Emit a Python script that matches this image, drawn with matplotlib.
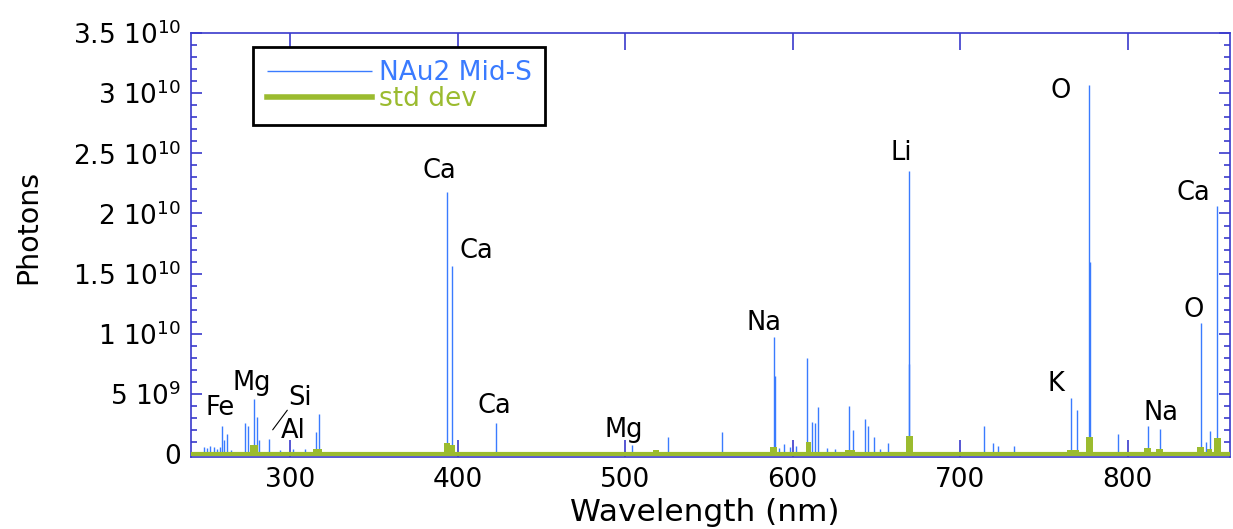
import matplotlib
matplotlib.use("Agg")
import matplotlib.pyplot as plt
from matplotlib.ticker import FixedLocator, MultipleLocator

plt.rcParams["font.family"] = ["DejaVu Sans"]
plt.rcParams["mathtext.fontset"] = "dejavusans"

# spectrum lines (nm, photons)
peak_wl = [248.5, 250.5, 252.5, 254.5, 256.5, 258.5, 259.5, 260.5, 262.5, 265.0,
           273.2, 275.0, 278.5, 280.3, 281.5, 287.5, 294.0, 301.8, 308.8, 315.5, 317.3,
           335.0, 345.0, 363.0, 393.6, 396.5, 406.0, 413.0, 422.8, 430.0, 445.0, 457.0,
           470.0, 504.4, 518.5, 525.9, 534.0, 558.0, 589.0, 589.6, 592.0, 595.0, 598.5,
           602.0, 608.7, 611.7, 613.5, 615.3, 620.5, 625.0, 633.7, 636.0, 643.3, 645.0,
           648.6, 652.0, 657.0, 669.2, 669.7, 705.0, 714.2, 719.5, 722.5, 732.0, 750.0,
           766.0, 769.5, 776.8, 777.3, 794.0, 812.0, 819.0, 843.5, 847.0, 848.9, 853.0]
peak_h = [0.6e9, 0.5e9, 0.7e9, 0.6e9, 0.4e9, 0.6e9, 2.3e9, 1.2e9, 1.7e9, 0.3e9,
          2.6e9, 2.3e9, 4.6e9, 3.1e9, 1.2e9, 1.25e9, 0.3e9, 0.4e9, 0.4e9, 1.8e9, 3.3e9,
          0.1e9, 0.15e9, 0.1e9, 2.18e10, 1.56e10, 0.15e9, 0.2e9, 2.6e9, 0.15e9, 0.15e9, 0.1e9,
          0.1e9, 0.75e9, 0.2e9, 1.4e9, 0.15e9, 1.8e9, 9.7e9, 6.5e9, 0.5e9, 0.8e9, 0.6e9,
          0.7e9, 8.0e9, 2.7e9, 2.6e9, 3.9e9, 0.5e9, 0.4e9, 4.0e9, 2.0e9, 2.9e9, 2.3e9,
          1.4e9, 0.4e9, 0.9e9, 7.5e9, 2.35e10, 0.1e9, 2.3e9, 0.9e9, 0.7e9, 0.7e9, 0.15e9,
          4.7e9, 3.7e9, 3.07e10, 1.6e10, 1.7e9, 2.3e9, 2.1e9, 1.09e10, 1.0e9, 1.9e9, 2.06e10]

# standard deviation bumps (centre nm, height, width nm)
std_wl = [252.0, 260.0, 278.5, 290.0, 316.5, 393.8, 396.8, 422.8, 441.0, 505.0,
          518.5, 558.0, 588.5, 609.3, 634.5, 645.0, 669.8, 714.0, 767.5, 777.0,
          812.0, 819.0, 843.5, 849.0, 853.5]
std_h = [0.15e9, 0.15e9, 0.75e9, 0.15e9, 0.4e9, 0.9e9, 0.75e9, 0.2e9, 0.1e9, 0.2e9,
         0.3e9, 0.15e9, 0.55e9, 1.0e9, 0.35e9, 0.2e9, 1.5e9, 0.15e9, 0.35e9, 1.4e9,
         0.5e9, 0.4e9, 0.6e9, 0.4e9, 1.3e9]
std_w = [4, 4, 4.5, 3, 5, 3.5, 3, 2, 3, 2,
         4, 2, 4, 3, 6, 4, 4, 2, 7, 4,
         4, 4, 4, 3, 4]
baseline_wl = [241, 861]
baseline_std = [0, 0]

# element labels (text, nm, photons)
elem_txt = ["Fe", "Mg", "Si", "Al", "Ca", "Ca", "Ca", "Mg", "Na", "Li", "O", "K", "Na", "O", "Ca"]
elem_wl = [258.3, 277.4, 306.0, 301.8, 389.4, 411.4, 422.2, 499.0, 583.0, 664.7,
           760.0, 757.0, 820.0, 839.3, 839.3]
elem_y = [3.8e9, 5.9e9, 4.7e9, 1.9e9, 2.35e10, 1.69e10, 4.0e9, 2.0e9, 1.09e10, 2.5e10,
          3.02e10, 5.8e9, 3.4e9, 1.2e10, 2.17e10]

ytick_vals = [0, 5e9, 1e10, 1.5e10, 2e10, 2.5e10, 3e10, 3.5e10]
ytick_labels = ["0", "5 10$^{9}$", "1 10$^{10}$", "1.5 10$^{10}$", "2 10$^{10}$",
                "2.5 10$^{10}$", "3 10$^{10}$", "3.5 10$^{10}$"]
xtick_vals = [300, 400, 500, 600, 700, 800]

BLUE = "#3a7bff"
GREEN = "#9bbb2f"
FRAME = "#3a3acc"

fig = plt.figure(figsize=(12.33, 5.29), dpi=100)
ax = fig.add_axes([0.155, 0.136, 0.8425, 0.8015])

ax.vlines(peak_wl, 0, peak_h, color=BLUE, lw=1.0, label="NAu2 Mid-S", zorder=2)
ax.plot(baseline_wl, baseline_std, color=GREEN, lw=3, zorder=3, solid_capstyle="butt")
ax.bar(std_wl, std_h, width=std_w, color=GREEN, zorder=3)
ax.plot([], [], color=GREEN, lw=4, label="std dev")

for t, x, y in zip(elem_txt, elem_wl, elem_y):
    ax.text(x, y, t, fontsize=18.5, ha="center", va="center")
ax.annotate("", xy=(288.7, 1.83e9), xytext=(299.4, 3.83e9),
            arrowprops=dict(arrowstyle="-", color="black", lw=0.8))

ax.set_xlim(241, 861)
ax.set_ylim(-2.5e8, 3.5e10)
ax.yaxis.set_major_locator(FixedLocator(ytick_vals))
ax.set_yticklabels(ytick_labels)
ax.yaxis.set_minor_locator(MultipleLocator(1e9))
ax.xaxis.set_major_locator(FixedLocator(xtick_vals))

for s in ax.spines.values():
    s.set_color(FRAME)
    s.set_linewidth(1.2)
ax.tick_params(which="both", direction="in", top=True, right=True, color=FRAME,
               labelsize=19, width=1.2)
ax.tick_params(axis="y", which="major", length=8, pad=7)
ax.tick_params(axis="y", which="minor", length=4)
ax.tick_params(axis="x", which="major", length=12, pad=7)

ax.set_xlabel("Wavelength (nm)", fontsize=22.5)
ax.set_ylabel("Photons", fontsize=20.5)
ax.xaxis.set_label_coords(0.494, -0.097)
ax.yaxis.set_label_coords(-0.143, 0.542)

leg = ax.legend(loc="upper left", bbox_to_anchor=(0.06, 0.967), borderaxespad=0,
                fontsize=19, handlelength=4.0, handletextpad=0.25, labelspacing=0.0,
                borderpad=0.5, fancybox=False, framealpha=1)
leg.get_frame().set_edgecolor("black")
leg.get_frame().set_linewidth(2)
for txt, c in zip(leg.get_texts(), [BLUE, GREEN]):
    txt.set_color(c)

fig.savefig("out.png", dpi=100)
